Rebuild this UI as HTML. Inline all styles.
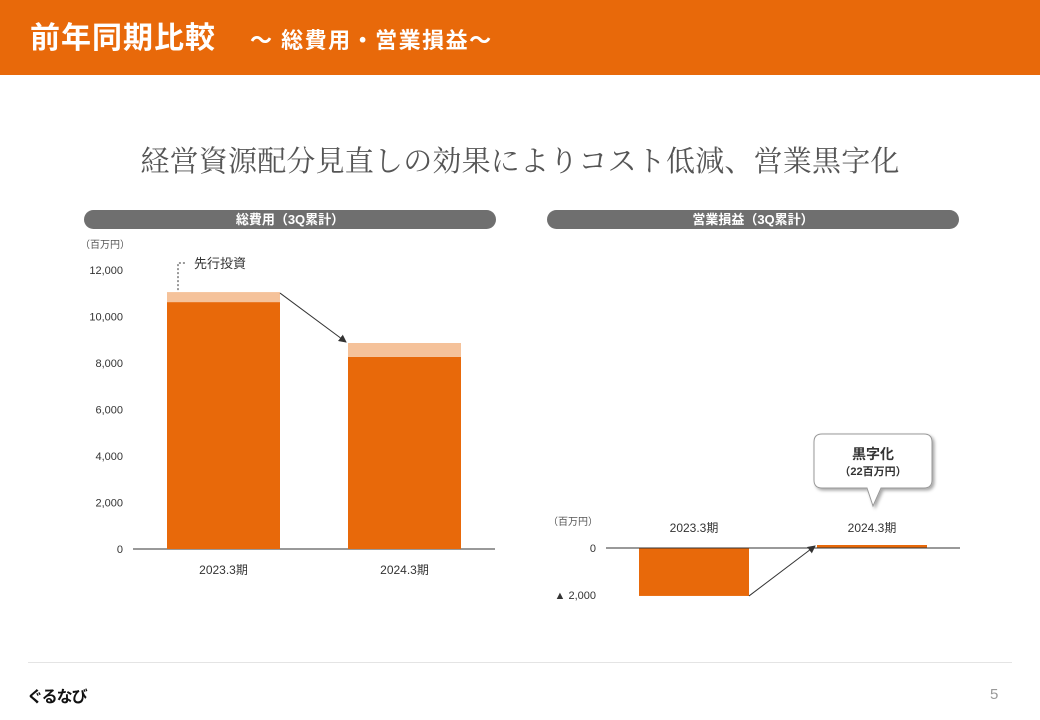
<!DOCTYPE html>
<html><head><meta charset="utf-8">
<style>
body{margin:0;width:1040px;height:720px;background:#fff;position:relative;overflow:hidden;font-family:"Liberation Sans","Noto Sans CJK JP",sans-serif;}
.a{position:absolute;}
</style></head>
<body>
<div class="a" style="left:0;top:0;width:1040px;height:75px;background:#E8690A;"></div>
<div class="a" style="left:30px;top:19px;color:#fff;font-size:30px;font-weight:bold;white-space:nowrap;line-height:40px;letter-spacing:1px;">前年同期比較<span style="font-size:22px;margin-left:34px;letter-spacing:1.5px;">～ 総費用・営業損益～</span></div>
<div class="a" style="left:0;width:1040px;top:139px;text-align:center;font-family:'Liberation Serif','Noto Serif CJK SC',serif;font-size:29px;letter-spacing:0.2px;color:#555;">経営資源配分見直しの効果によりコスト低減、営業黒字化</div>
<div class="a" style="left:84px;top:210px;width:412px;height:19px;border-radius:10px;background:#6f6f6f;color:#fff;font-size:13px;font-weight:bold;text-align:center;line-height:19px;">総費用（3Q累計）</div>
<div class="a" style="left:547px;top:210px;width:412px;height:19px;border-radius:10px;background:#6f6f6f;color:#fff;font-size:13px;font-weight:bold;text-align:center;line-height:19px;">営業損益（3Q累計）</div>
<svg class="a" style="left:0;top:0" width="1040" height="720" id="chart">
<defs><marker id="ar" markerWidth="8" markerHeight="8" refX="7" refY="4" orient="auto"><path d="M0,0L8,4L0,8z" fill="#333"/></marker>
<filter id="sh"><feDropShadow dx="2" dy="2" stdDeviation="1.5" flood-opacity="0.35"/></filter></defs>
</svg>
<div class="a" style="left:28px;top:662px;width:984px;height:1px;background:#e4e4e4;"></div>
<div class="a" style="left:27px;top:683px;font-size:16px;font-weight:bold;color:#111;letter-spacing:-1px;">ぐるなび</div>
<div class="a" style="left:990px;top:686px;font-size:15px;color:#999;">5</div>
<script>
const catsL=['2023.3期','2024.3期'];
const baseL=[10620,8260];
const investL=[430,600];
const ticksL=[0,2000,4000,6000,8000,10000,12000];
const catsR=['2023.3期','2024.3期'];
const profitR=[-2040,22];
const NS='http://www.w3.org/2000/svg';
const svg=document.getElementById('chart');
function el(t,a,txt){const e=document.createElementNS(NS,t);for(const k in a)e.setAttribute(k,a[k]);if(txt!==undefined)e.textContent=txt;svg.appendChild(e);return e;}
const yL=v=>549-v*(279/12000);
const xL=i=>167+i*181;
ticksL.forEach(t=>{const e=el('text',{x:123,y:yL(t)+4,'text-anchor':'end','font-size':11,fill:'#333'},t.toLocaleString('en-US'));

});
let u=el('text',{x:80,y:248,'font-size':10,fill:'#555'},'（百万円）');

let ax=el('line',{x1:133,y1:549,x2:495,y2:549,stroke:'#333','stroke-width':1});

catsL.forEach((c,i)=>{
 const x=xL(i),w=113;
 const b=el('rect',{x:x,y:yL(baseL[i]),width:w,height:yL(0)-yL(baseL[i]),fill:'#E8690A'});
 
 const t=baseL[i]+investL[i];
 const b2=el('rect',{x:x,y:yL(t),width:w,height:yL(baseL[i])-yL(t),fill:'#F5C29A'});
 
 const l=el('text',{x:x+w/2,y:574,'text-anchor':'middle','font-size':12,fill:'#333'},c);
 
});
const t0=baseL[0]+investL[0],t1=baseL[1]+investL[1];
let a1=el('line',{x1:xL(0)+113,y1:yL(t0)+1,x2:xL(1)-2,y2:yL(t1)-1,stroke:'#333','stroke-width':1,'marker-end':'url(#ar)'});

let d=el('path',{d:`M178,${yL(t0)-2}V263H186`,fill:'none',stroke:'#333','stroke-dasharray':'2,2'});

let il=el('text',{x:194,y:268,'font-size':13,fill:'#333'},'先行投資');

const yR=v=>548-v*(47/2000);
const xR=i=>639+i*178;
let u2=el('text',{x:548,y:525,'font-size':10,fill:'#555'},'（百万円）');

let z=el('text',{x:596,y:552,'text-anchor':'end','font-size':11,fill:'#333'},'0');

let m=el('text',{x:596,y:599,'text-anchor':'end','font-size':11,fill:'#333'},'▲ 2,000');

catsR.forEach((c,i)=>{
 const x=xR(i),w=110,v=profitR[i];
 let y=Math.min(yR(v),yR(0)),h=Math.abs(yR(v)-yR(0));
 if(h<3){h=3;y=yR(0)-3;}
 const b=el('rect',{x:x,y:y,width:w,height:h,fill:'#E8690A'});
 
 const l=el('text',{x:x+w/2,y:532,'text-anchor':'middle','font-size':12,fill:'#333'},c);
 
});
let ax2=el('line',{x1:606,y1:548,x2:960,y2:548,stroke:'#333','stroke-width':1});

let a2=el('line',{x1:xR(0)+110,y1:yR(profitR[0]),x2:xR(1)-2,y2:yR(0)-2,stroke:'#333','stroke-width':1,'marker-end':'url(#ar)'});

let cb=el('path',{d:'M822,434H924Q932,434 932,442V480Q932,488 924,488H881L873,506L867,488H822Q814,488 814,480V442Q814,434 822,434Z',fill:'#fff',stroke:'#999','stroke-width':1,filter:'url(#sh)'});

let c1=el('text',{x:873,y:459,'text-anchor':'middle','font-size':14,'font-weight':'bold',fill:'#333'},'黒字化');

let c2=el('text',{x:873,y:475,'text-anchor':'middle','font-size':11,'font-weight':'bold',fill:'#333'},'（22百万円）');

</script>
</body></html>
